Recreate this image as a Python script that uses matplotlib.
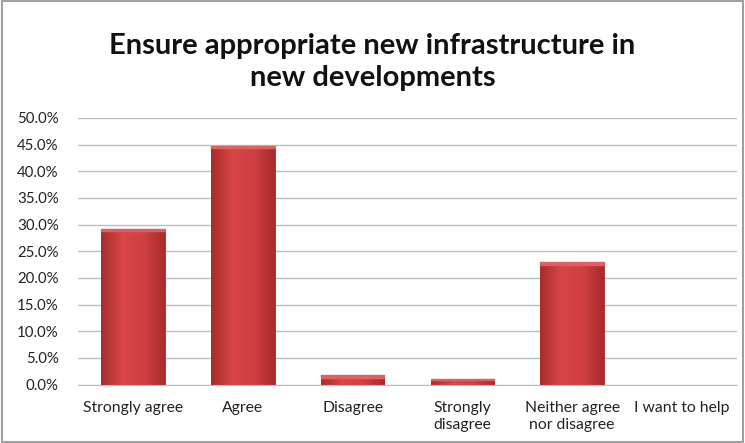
import matplotlib.pyplot as plt
import numpy as np
from matplotlib.colors import LinearSegmentedColormap
from matplotlib.patches import Rectangle

categories = ["Strongly agree", "Agree", "Disagree", "Strongly\ndisagree",
              "Neither agree\nnor disagree", "I want to help"]
values = [29.1, 44.8, 1.7, 1.1, 22.9, 0.0]
y_ticks = np.arange(0, 50.1, 5)
y_labels = [f"{t:.1f}%" for t in y_ticks]

plt.rcParams["font.family"] = ["Lato", "DejaVu Sans"]

fig = plt.figure(figsize=(7.45, 4.43), dpi=100)
ax = fig.add_axes([0.105, 0.132, 0.884, 0.602])

x = np.arange(len(categories))
width = 0.58
bars = ax.bar(x, values, width=width, color="#c83c3c", edgecolor="#a52a2a",
              linewidth=0.6, zorder=2)

# horizontal shading to mimic the bevelled bars
shade = LinearSegmentedColormap.from_list(
    "shade", ["#a82c2c", "#d84646", "#d04040", "#a82c2c"])
grad = np.linspace(0, 1, 64).reshape(1, -1)
for b in bars:
    h = b.get_height()
    if h <= 0:
        continue
    x0 = b.get_x()
    im = ax.imshow(grad, cmap=shade, aspect="auto", zorder=2.5,
                   extent=(x0, x0 + b.get_width(), 0, h))
    im.set_clip_path(b)
    cap = min(0.4, h * 0.25)
    ax.add_patch(Rectangle((x0, h - cap), b.get_width(), cap,
                           color="#e06060", zorder=3))

ax.set_xlim(-0.5, len(categories) - 0.5)
ax.set_ylim(0, 50)
ax.set_yticks(y_ticks)
ax.set_yticklabels(y_labels, fontsize=10.8)
ax.set_xticks(x)
ax.set_xticklabels(categories, linespacing=1.25, fontsize=11.3)
ax.tick_params(axis="both", length=0, colors="#222222")
ax.tick_params(axis="x", pad=12)
ax.tick_params(axis="y", pad=14)
ax.yaxis.grid(True, color="#bdbdbd", linewidth=1.0, zorder=0)
ax.set_axisbelow(True)
for side in ["top", "right", "left"]:
    ax.spines[side].set_visible(False)
ax.spines["bottom"].set_color("#bdbdbd")

fig.text(0.5, 0.86, "Ensure appropriate new infrastructure in\nnew developments",
         ha="center", va="center", fontsize=21, fontweight="bold",
         linespacing=1.3, color="#111111")

fig.patches.append(Rectangle((0.003, 0.003), 0.994, 0.994, transform=fig.transFigure,
                             fill=False, edgecolor="#a0a0a0", linewidth=1.5))

fig.savefig("out.png", dpi=100)
